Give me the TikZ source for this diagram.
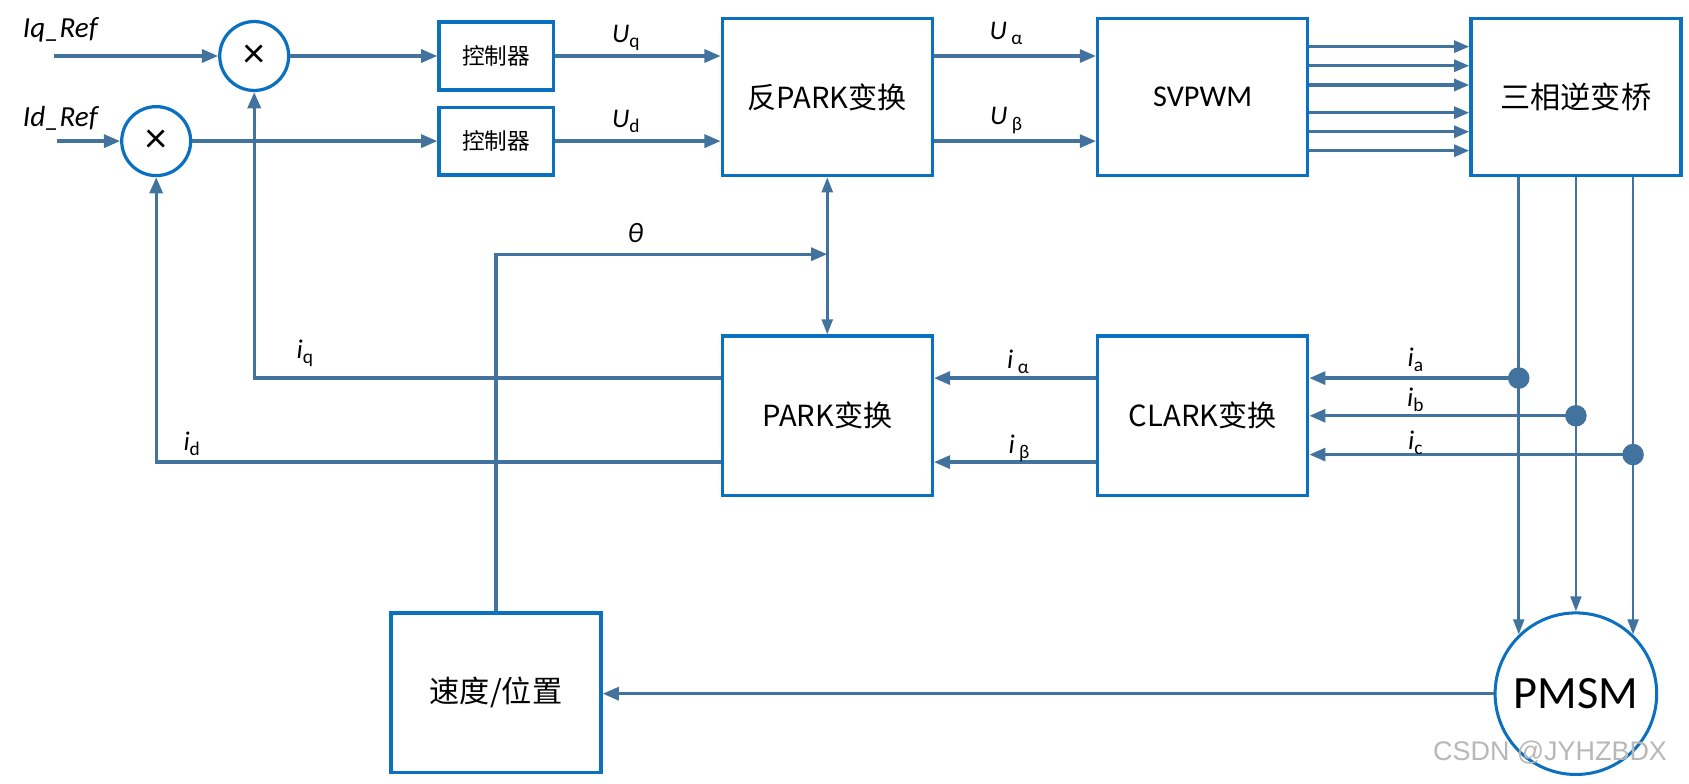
\documentclass[tikz,border=0pt]{standalone}
\usepackage{fontspec}
\setmainfont{Carlito}
\newfontfamily\cjk{Noto Sans CJK SC}
\newfontfamily\wmfont{Liberation Sans}
\usetikzlibrary{arrows.meta,calc}
\definecolor{lc}{RGB}{66,114,158}
\definecolor{bc}{RGB}{12,112,192}
\newcommand{\fs}[1]{\fontsize{#1}{#1}\selectfont}
\newcommand{\sig}[2]{{\fs{25}\itshape #1}{\fs{18}\raisebox{-5pt}{#2}}}
\begin{document}
\begin{tikzpicture}[x=1pt,y=-1pt,
  box/.style={draw=bc,line width=3pt,fill=white,inner sep=0pt,minimum width=195pt,minimum height=146pt},
  sbox/.style={box,minimum width=106pt,minimum height=63pt},
  mul/.style={circle,draw=bc,line width=3pt,fill=white,minimum size=64pt,inner sep=0pt},
  ln/.style={draw=lc,line width=3.1pt},
  arr/.style={ln,-{Triangle[length=15pt,width=12pt]}},
  parr/.style={draw=lc,line width=2.5pt,-{Triangle[length=14pt,width=10pt]}},
  dot/.style={circle,fill=lc,minimum size=20pt,inner sep=0pt},
  lab/.style={inner sep=0pt,text=black},
]
\useasboundingbox (0,0) rectangle (1568,727);
\fill[white] (0,0) rectangle (1568,727);

% level coordinates
\coordinate (ytop) at (0,52);
\coordinate (ybot) at (0,131);
\coordinate (ya) at (0,351);
\coordinate (yb) at (0,386);
\coordinate (yc) at (0,422);
\coordinate (yd) at (0,429);
\coordinate (yth) at (0,236);

% blocks
\node[mul] (m1) at (236,52) {\fs{40}×};
\node[mul] (m2) at (145,131) {\fs{40}×};
\node[sbox] (c1) at (460.5,52) {\cjk\fs{21}控制器};
\node[sbox] (c2) at (460.5,131) {\cjk\fs{21}控制器};
\node[box] (ip) at (768,90) {\cjk\fs{27}反PARK变换};
\node[box] (sv) at (1116.5,90) {\fs{28}SVPWM};
\node[box] (inv) at (1463,90) {\cjk\fs{28}三相逆变桥};
\node[box,minimum height=148pt] (cl) at (1116.5,386) {\cjk\fs{27}CLARK变换};
\node[box,minimum height=148pt] (pk) at (768,386) {\cjk\fs{27}PARK变换};
\node[box,minimum height=148pt] (sp) at (460.5,643) {\cjk\fs{28}速度/位置};
\node[circle,draw=bc,line width=2.8pt,fill=white,minimum size=150pt,inner sep=0pt] (pm) at (1463,644) {\fs{43}PMSM};

% inputs
\coordinate (iq0) at (50,52);
\coordinate (id0) at (53,131);
\draw[arr] (iq0) -- (m1.west);
\draw[arr] (id0) -- (m2.west);
\draw[arr] (m1.east) -- (c1.west);
\draw[arr] (m2.east) -- (c2.west);
\draw[arr] (c1.east) -- (c1.east -| ip.west);
\draw[arr] (c2.east) -- (c2.east -| ip.west);
\draw[arr] (ip.east |- ytop) -- (sv.west |- ytop);
\draw[arr] (ip.east |- ybot) -- (sv.west |- ybot);
\foreach \yy in {43.3,61,78.9,104.6,122.3,139.9}
  \draw[ln,line width=2.9pt,-{Triangle[length=14pt,width=11pt]}] (sv.east |- 0,\yy) -- (inv.west |- 0,\yy);

% phase lines
\coordinate (pa) at (pm.134);
\coordinate (pb) at (pm.north);
\coordinate (pc) at (pm.46);
\draw[parr] (inv.south -| pa) -- (pa);
\draw[parr] (inv.south -| pb) -- (pb);
\draw[parr] (inv.south -| pc) -- (pc);
\node[dot] (da) at (pa |- ya) {};
\node[dot] (db) at (pb |- yb) {};
\node[dot] (dc) at (pc |- yc) {};
\draw[arr] (da.center) -- (da.center -| cl.east);
\draw[arr] (db.center) -- (db.center -| cl.east);
\draw[arr] (dc.center) -- (dc.center -| cl.east);

% clark -> park
\draw[arr] (cl.west |- ya) -- (pk.east |- ya);
\draw[arr] (cl.west |- yd) -- (pk.east |- yd);

% feedback
\draw[arr] (pk.west |- ya) -- (m1 |- ya) -- (m1.south);
\draw[arr] (pk.west |- yd) -- (m2 |- yd) -- (m2.south);
\draw[draw=lc,line width=2.6pt,{Triangle[length=14pt,width=10pt]}-{Triangle[length=14pt,width=10pt]}] (ip.south) -- (pk.north);
\draw[arr] (sp.north) -- (sp.north |- yth) -- (ip.south |- yth);
\draw[arr] (pm.west) -- (pm.west -| sp.east);

% labels
\node[lab] (tiq) at (56,28) {\fs{27}\itshape Iq\_Ref};
\node[lab] (tid) at (56,110) {\fs{27}\itshape Id\_Ref};
\node[lab] (tuq) at (581,35) {\sig{U}{q}};
\node[lab] (tud) at (581,113) {\sig{U}{d}};
\node[lab] (tua) at (934,31) {\sig{U\,}{α}};
\node[lab] (tub) at (934,112) {\sig{U\,}{β}};
\node[lab] (tth) at (590,216) {\fs{26}\itshape θ};
\node[lab] (tiqq) at (283,328) {\sig{i}{q}};
\node[lab] (tidd) at (178,412) {\sig{i}{d}};
\node[lab] (tal) at (945,336) {\sig{i\,}{α}};
\node[lab] (tbe) at (946,416) {\sig{i\,}{β}};
\node[lab] (tia) at (1314,334) {\sig{i}{a}};
\node[lab] (tib) at (1314,371) {\sig{i}{b}};
\node[lab] (tic) at (1314,411) {\sig{i}{c}};
\node[lab,text=black!28] (wm) at (1439,699) {\wmfont\fs{25}CSDN @JYHZBDX};
\end{tikzpicture}
\end{document}
